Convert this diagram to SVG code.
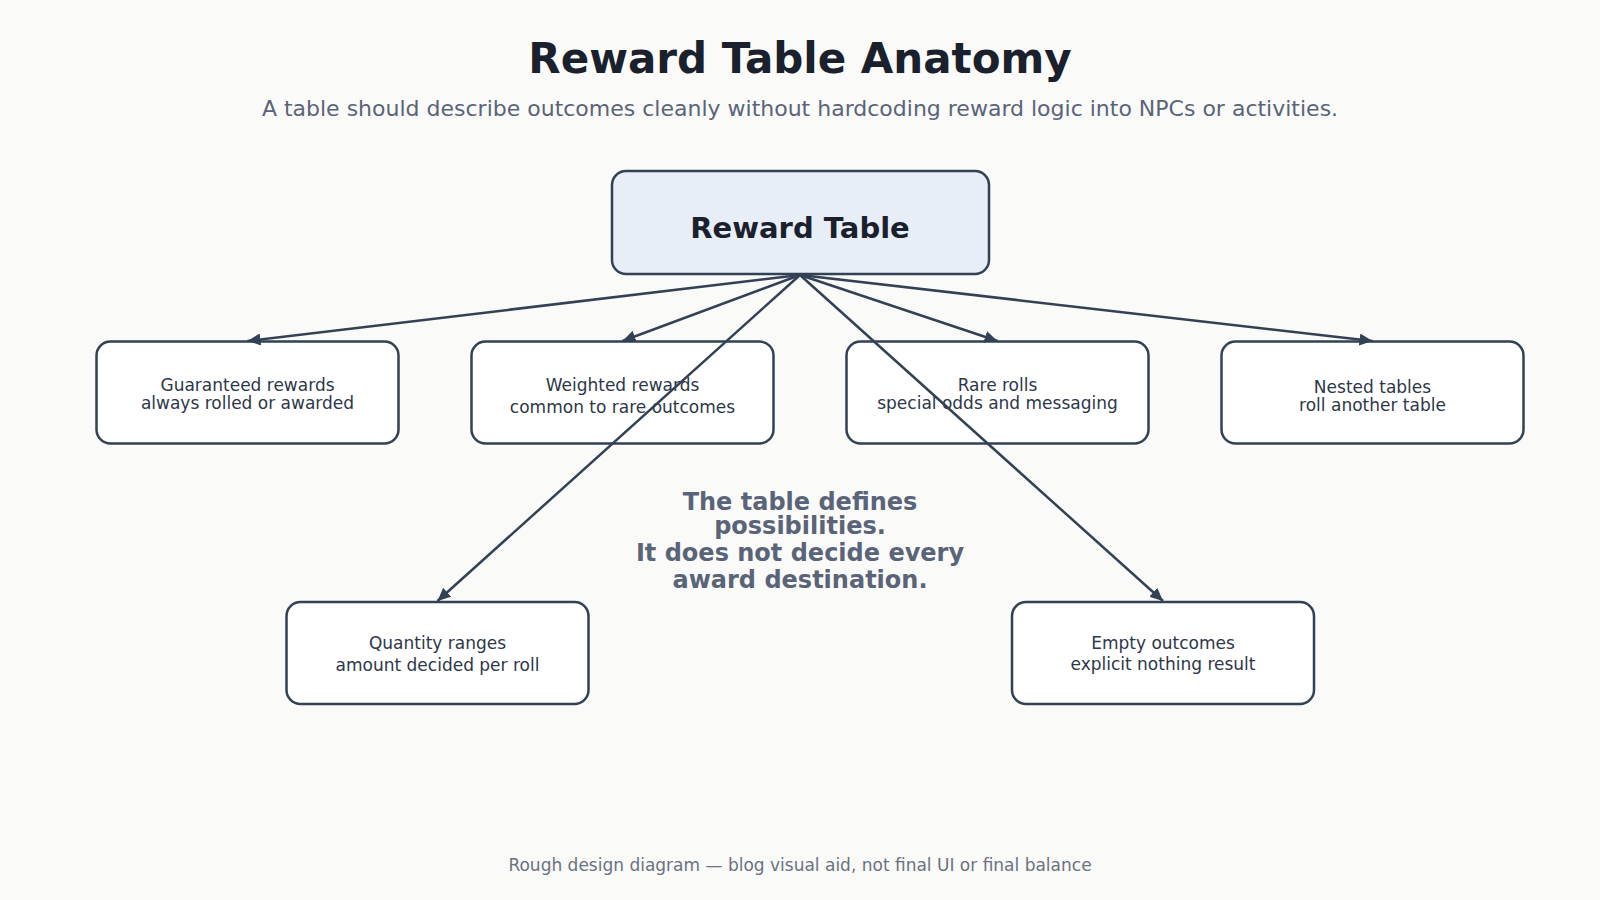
<svg xmlns="http://www.w3.org/2000/svg" width="1600" height="900" viewBox="0 0 1600 900">
<defs>
<marker id="arr" markerUnits="userSpaceOnUse" markerWidth="14" markerHeight="12" refX="13" refY="6" orient="auto">
<path d="M0,0 L13,6 L0,12 z" fill="#334155"/>
</marker>
<style>
.bg{fill:#fafaf9}
.title{font-family:"DejaVu Sans",sans-serif;font-weight:bold;font-size:42px;fill:#1a202c;text-anchor:middle}
.sub{font-family:"DejaVu Sans",sans-serif;font-size:22px;fill:#5a6478;text-anchor:middle}
.box{fill:#ffffff;stroke:#334155;stroke-width:2.5}
.main{fill:#e7eef8;stroke:#334155;stroke-width:2.5}
.mt{font-family:"DejaVu Sans",sans-serif;font-weight:bold;font-size:29px;fill:#1a202c;text-anchor:middle}
.bt{font-family:"DejaVu Sans",sans-serif;font-size:17px;fill:#2d3748;text-anchor:middle}
.note{font-family:"DejaVu Sans",sans-serif;font-weight:bold;font-size:24px;fill:#5a6478;text-anchor:middle}
.foot{font-family:"DejaVu Sans",sans-serif;font-size:17px;fill:#6b7280;text-anchor:middle}
.edge{stroke:#334155;stroke-width:2.5;fill:none;marker-end:url(#arr)}
</style>
</defs>
<rect class="bg" x="0" y="0" width="1600" height="900"/>
<text class="title" x="800" y="73">Reward Table Anatomy</text>
<text class="sub" x="800" y="116">A table should describe outcomes cleanly without hardcoding reward logic into NPCs or activities.</text>

<g id="node-main">
<rect class="main" x="612" y="171" width="377" height="103" rx="14"/>
<text class="mt" x="800" y="238">Reward Table</text>
</g>
<g id="node-guaranteed">
<rect class="box" x="96.5" y="341.5" width="302" height="102" rx="14"/>
<text class="bt" x="247.5" y="391">Guaranteed rewards</text>
<text class="bt" x="247.5" y="409">always rolled or awarded</text>
</g>
<g id="node-weighted">
<rect class="box" x="471.5" y="341.5" width="302" height="102" rx="14"/>
<text class="bt" x="622.5" y="391">Weighted rewards</text>
<text class="bt" x="622.5" y="413">common to rare outcomes</text>
</g>
<g id="node-rare">
<rect class="box" x="846.5" y="341.5" width="302" height="102" rx="14"/>
<text class="bt" x="997.5" y="391">Rare rolls</text>
<text class="bt" x="997.5" y="409">special odds and messaging</text>
</g>
<g id="node-nested">
<rect class="box" x="1221.5" y="341.5" width="302" height="102" rx="14"/>
<text class="bt" x="1372.5" y="393">Nested tables</text>
<text class="bt" x="1372.5" y="411">roll another table</text>
</g>
<g id="node-quantity">
<rect class="box" x="286.5" y="602" width="302" height="102" rx="14"/>
<text class="bt" x="437.5" y="649">Quantity ranges</text>
<text class="bt" x="437.5" y="671">amount decided per roll</text>
</g>
<g id="node-empty">
<rect class="box" x="1012" y="602" width="302" height="102" rx="14"/>
<text class="bt" x="1163" y="649">Empty outcomes</text>
<text class="bt" x="1163" y="670">explicit nothing result</text>
</g>

<g id="connectors">
<line class="edge" x1="800" y1="275" x2="247.5" y2="341"/>
<line class="edge" x1="800" y1="275" x2="622.5" y2="341"/>
<line class="edge" x1="800" y1="275" x2="997.5" y2="341"/>
<line class="edge" x1="800" y1="275" x2="1372.5" y2="341"/>
<line class="edge" x1="800" y1="275" x2="437.5" y2="601"/>
<line class="edge" x1="800" y1="275" x2="1163" y2="601"/>
</g>

<g id="note">
<text class="note" x="800" y="510">The table defines</text>
<text class="note" x="800" y="533.5">possibilities.</text>
<text class="note" x="800" y="561">It does not decide every</text>
<text class="note" x="800" y="588">award destination.</text>
</g>
<text class="foot" x="800" y="871">Rough design diagram — blog visual aid, not final UI or final balance</text>
</svg>
